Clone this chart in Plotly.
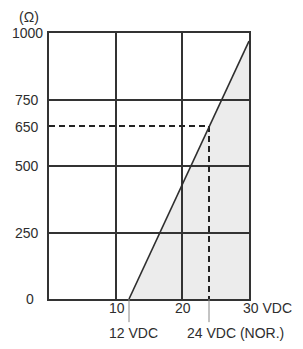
import plotly.graph_objects as go

# ---- data ----
x_grid = [10, 20]
y_grid = [250, 500, 750]
x_tick_vals = [10, 20, 30]
x_tick_labels = ["10", "20", "30 VDC"]
y_tick_vals = [1000, 750, 650, 500, 250, 0]
y_tick_labels = ["1000", "750", "650", "500", "250", "0"]
line_voltage = [12, 30]
line_resistance = [0, 970]
rated_voltage = 24
rated_resistance = 650
min_voltage = 12
marker_labels = ["12 VDC", "24 VDC (NOR.)"]
x_max = 30
y_max = 1000

FONT = dict(family="Liberation Sans, Arial, sans-serif", size=14, color="#2e2e2e")
DARK = "#333333"

fig = go.Figure()

# shaded region right of the line (drawn below the gridlines)
fill_path = "M {x0},{y0} L {x1},{y1} L {x1},0 Z".format(
    x0=line_voltage[0], y0=line_resistance[0], x1=line_voltage[1], y1=line_resistance[1])
fig.add_shape(type="path", path=fill_path, xref="x", yref="y", layer="below",
              fillcolor="#ececec", line=dict(width=0))

# dashed rated-point lines
fig.add_trace(go.Scatter(
    x=[0, rated_voltage, rated_voltage], y=[rated_resistance, rated_resistance, 0],
    mode="lines", line=dict(color="#222222", width=2, dash="6px,4px"),
    showlegend=False, hoverinfo="skip"))

# characteristic line
fig.add_trace(go.Scatter(
    x=line_voltage, y=line_resistance, mode="lines",
    line=dict(color="#2e2e2e", width=1.6), showlegend=False, hoverinfo="skip"))

# leader lines below axis
for v in [min_voltage, rated_voltage]:
    fig.add_shape(type="line", xref="paper", yref="paper",
                  x0=v / x_max, x1=v / x_max, y0=0, y1=-0.087,
                  line=dict(color="#888888", width=1))

# x tick labels
for v, t in zip(x_tick_vals, x_tick_labels):
    if t == "30 VDC":
        fig.add_annotation(x=v, y=0, xref="x", yref="paper", text=t, showarrow=False,
                           xanchor="left", yanchor="top", xshift=-8, yshift=1, font=FONT)
    else:
        fig.add_annotation(x=v, y=0, xref="x", yref="paper", text=t, showarrow=False,
                           xanchor="center", yanchor="top", xshift=1, yshift=1, font=FONT)

# marker labels
fig.add_annotation(x=min_voltage, y=0, xref="x", yref="paper", text=marker_labels[0],
                   showarrow=False, xanchor="center", yanchor="top", xshift=4, yshift=-24, font=FONT)
fig.add_annotation(x=rated_voltage, y=0, xref="x", yref="paper", text=marker_labels[1],
                   showarrow=False, xanchor="center", yanchor="top", xshift=26, yshift=-24, font=FONT)

# y tick labels
for v, t in zip(y_tick_vals, y_tick_labels):
    fig.add_annotation(x=0, y=v, xref="paper", yref="y", text=t, showarrow=False,
                       xanchor="center", yanchor="middle", xshift=-22 if v else -19,
                       yshift=0 if v != 650 else -1, font=FONT)

# unit label
fig.add_annotation(x=0, y=1, xref="paper", yref="paper", text="(Ω)", showarrow=False,
                   xanchor="center", yanchor="middle", xshift=-20, yshift=16, font=FONT)

fig.update_xaxes(range=[0, x_max], tickvals=x_grid, showticklabels=False,
                 showgrid=True, gridcolor=DARK, gridwidth=2, zeroline=False,
                 showline=True, linecolor=DARK, linewidth=2, mirror=True, ticks="")
fig.update_yaxes(range=[0, y_max], tickvals=y_grid, showticklabels=False,
                 showgrid=True, gridcolor=DARK, gridwidth=2, zeroline=False,
                 showline=True, linecolor=DARK, linewidth=2, mirror=True, ticks="")

fig.update_layout(width=303, height=349, margin=dict(l=49, r=54, t=33, b=50),
                  plot_bgcolor="white", paper_bgcolor="white", showlegend=False)

fig.write_html("out.html", config={"displayModeBar": False},
               post_script="document.body.style.margin='0';document.body.style.overflow='hidden';")
